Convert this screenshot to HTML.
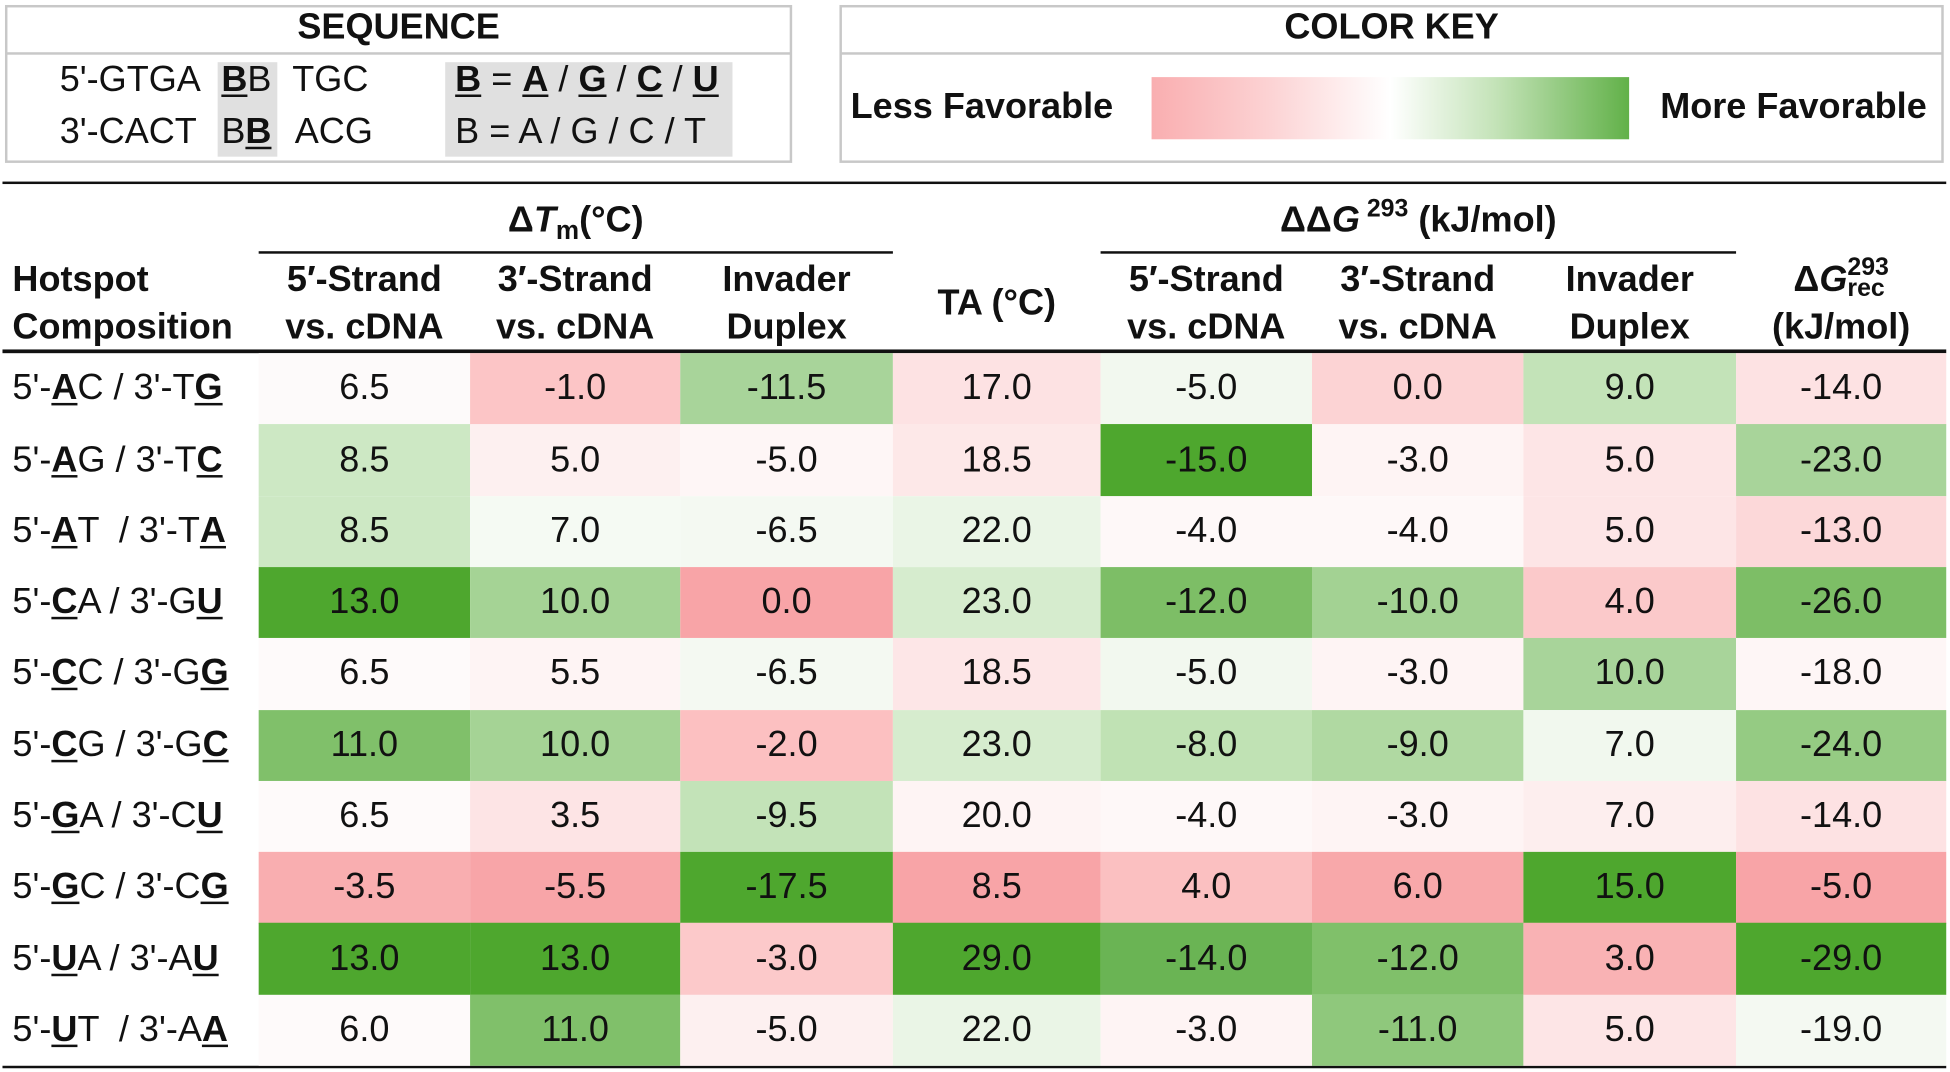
<!DOCTYPE html>
<html><head><meta charset="utf-8"><style>
html,body{margin:0;padding:0;background:#fff;overflow:hidden}
body{width:1950px;height:1072px}
#w{position:absolute;left:0;top:0;width:1568px;height:862px;transform:scale(1.2436);transform-origin:0 0;font-family:"Liberation Sans",Arial,sans-serif;color:#111}
.a{position:absolute;white-space:pre}
.box{position:absolute;border:2px solid #c8c8c8;box-sizing:border-box}
.hb{font-weight:bold}
.cell{position:absolute;height:57.5px;display:flex;align-items:center;justify-content:center;font-size:29px}
.lab{position:absolute;left:10px;height:57.5px;display:flex;align-items:center;font-size:29px;white-space:pre}
.lab u{font-weight:bold}
.hd{position:absolute;text-align:center;font-weight:bold;font-size:29px;line-height:38px;white-space:nowrap}
.line{position:absolute;background:#111}
u{text-decoration-thickness:2px;text-underline-offset:3px}
.s{font-size:29px}
</style></head><body><div id="w">
<div class="box" style="left:4px;top:4px;width:633px;height:127px"></div>
<div class="a" style="left:5px;top:42px;width:631px;height:2px;background:#c8c8c8"></div>
<div class="a hb" style="left:4px;top:6px;width:633px;text-align:center;font-size:29px">SEQUENCE</div>
<div class="a" style="left:175px;top:50px;width:48px;height:76px;background:#e0e0e0"></div>
<div class="a" style="left:358px;top:50px;width:231px;height:76px;background:#e0e0e0"></div>
<div class="a s" style="left:48px;top:48px">5'-GTGA</div>
<div class="a s" style="left:178px;top:48px"><u><b>B</b></u>B</div>
<div class="a s" style="left:235px;top:48px">TGC</div>
<div class="a s" style="left:48px;top:90px">3'-CACT</div>
<div class="a s" style="left:178px;top:90px">B<u><b>B</b></u></div>
<div class="a s" style="left:237px;top:90px">ACG</div>
<div class="a s" style="left:366px;top:48px"><u><b>B</b></u> = <u><b>A</b></u> / <u><b>G</b></u> / <u><b>C</b></u> / <u><b>U</b></u></div>
<div class="a s" style="left:366px;top:90px">B = A / G / C / T</div>

<div class="box" style="left:675px;top:4px;width:888px;height:127px"></div>
<div class="a" style="left:676px;top:42px;width:886px;height:2px;background:#c8c8c8"></div>
<div class="a hb" style="left:675px;top:6px;width:888px;text-align:center;font-size:29px">COLOR KEY</div>
<div class="a hb" style="left:684px;top:70px;font-size:29px">Less Favorable</div>
<div class="a hb" style="left:1335px;top:70px;font-size:29px">More Favorable</div>
<div class="a" style="left:926px;top:62px;width:384px;height:50px;background:linear-gradient(to right,#f9aeb0 0%,#fcd3d4 25%,#ffffff 50%,#c4e3b8 72%,#62b149 100%)"></div>

<div class="line" style="left:2px;top:146px;width:1563px;height:2px"></div>
<div class="hd" style="left:208px;top:158px;width:510px">Δ<i>T</i><span style="font-size:21px;vertical-align:-6px">m</span>(°C)</div>
<div class="line" style="left:208px;top:202px;width:510px;height:2px"></div>
<div class="hd" style="left:885px;top:158px;width:511px">ΔΔ<i>G</i><sup style="font-size:20px;vertical-align:12px;line-height:0"> 293</sup> (kJ/mol)</div>
<div class="line" style="left:885px;top:202px;width:511px;height:2px"></div>
<div class="hd" style="left:10px;top:206px;text-align:left">Hotspot<br>Composition</div>
<div class="hd" style="left:208px;top:206px;width:170px">5′-Strand<br>vs. cDNA</div>
<div class="hd" style="left:378px;top:206px;width:169px">3′-Strand<br>vs. cDNA</div>
<div class="hd" style="left:547px;top:206px;width:171px">Invader<br>Duplex</div>
<div class="hd" style="left:718px;top:225px;width:167px">TA (°C)</div>
<div class="hd" style="left:885px;top:206px;width:170px">5′-Strand<br>vs. cDNA</div>
<div class="hd" style="left:1055px;top:206px;width:170px">3′-Strand<br>vs. cDNA</div>
<div class="hd" style="left:1225px;top:206px;width:171px">Invader<br>Duplex</div>
<div class="hd" style="left:1396px;top:206px;width:169px;line-height:38px">Δ<i>G</i><span style="display:inline-block;vertical-align:-4px;font-size:20px;line-height:17px;text-align:left">293<br>rec</span><br>(kJ/mol)</div>
<div class="line" style="left:2px;top:281px;width:1563px;height:3px"></div>
<div class="line" style="left:2px;top:857px;width:1563px;height:2px"></div>
<div id="t"></div>
</div>
<script>
var X=[208,378,547,718,885,1055,1225,1396,1565];
var labs=[['A','C','T','G'],['A','G','T','C'],['A','T ','T','A'],['C','A','G','U'],['C','C','G','G'],['C','G','G','C'],['G','A','C','U'],['G','C','C','G'],['U','A','A','U'],['U','T ','A','A']];
var D=[
[['6.5','#fdfafa'],['-1.0','#fcc5c6'],['-11.5','#a8d49a'],['17.0','#fde2e3'],['-5.0','#f2f8ef'],['0.0','#fcd3d4'],['9.0','#c3e3b8'],['-14.0','#fde2e3']],
[['8.5','#cde8c4'],['5.0','#fdf0f0'],['-5.0','#fef6f6'],['18.5','#fde8e8'],['-15.0','#4ea72e'],['-3.0','#fef4f4'],['5.0','#fde5e6'],['-23.0','#a8d49a']],
[['8.5','#cde8c4'],['7.0','#f5faf3'],['-6.5','#f4f9f2'],['22.0','#eaf5e6'],['-4.0','#fef8f8'],['-4.0','#fef8f8'],['5.0','#fde5e6'],['-13.0','#fcd8d9']],
[['13.0','#4ea72e'],['10.0','#a5d395'],['0.0','#f8a4a7'],['23.0','#d6ecce'],['-12.0','#7dbe66'],['-10.0','#a3d293'],['4.0','#fbc9ca'],['-26.0','#7dbe66']],
[['6.5','#fefafa'],['5.5','#fef4f4'],['-6.5','#f4f9f2'],['18.5','#fde6e7'],['-5.0','#f2f8ef'],['-3.0','#fef4f4'],['10.0','#a8d49a'],['-18.0','#fef6f6']],
[['11.0','#80c06a'],['10.0','#a5d395'],['-2.0','#fcc0c1'],['23.0','#d6ecce'],['-8.0','#c0e2b4'],['-9.0','#b0d9a2'],['7.0','#f1f8ee'],['-24.0','#95cb83']],
[['6.5','#fefafa'],['3.5','#fde4e5'],['-9.5','#c3e3b8'],['20.0','#fef4f4'],['-4.0','#fef8f8'],['-3.0','#fef4f4'],['7.0','#fdeeee'],['-14.0','#fde2e3']],
[['-3.5','#f9aeb0'],['-5.5','#f8a5a8'],['-17.5','#4ea72e'],['8.5','#f8a4a7'],['4.0','#fbc0c1'],['6.0','#f8a8aa'],['15.0','#4ea72e'],['-5.0','#f8a4a7']],
[['13.0','#4ea72e'],['13.0','#4ea72e'],['-3.0','#fcc9ca'],['29.0','#4ea72e'],['-14.0','#6ab454'],['-12.0','#80c06a'],['3.0','#f9b2b4'],['-29.0','#4ea72e']],
[['6.0','#fefafa'],['11.0','#80c06a'],['-5.0','#fdf0f0'],['22.0','#eaf5e6'],['-3.0','#fef4f4'],['-11.0','#8fc87c'],['5.0','#fde5e6'],['-19.0','#f4f9f2']]];
var h='';
for(var r=0;r<10;r++){var y=284+r*57.3;var L=labs[r];
h+='<div class="lab" style="top:'+y+'px">5\'-<u>'+L[0]+'</u>'+L[1]+' / 3\'-'+L[2]+'<u>'+L[3]+'</u></div>';
for(var c=0;c<8;c++){h+='<div class="cell" style="left:'+X[c]+'px;top:'+y+'px;width:'+(X[c+1]-X[c])+'px;background:'+D[r][c][1]+'">'+D[r][c][0]+'</div>';}}
document.getElementById('t').innerHTML=h;
</script>
</body></html>
